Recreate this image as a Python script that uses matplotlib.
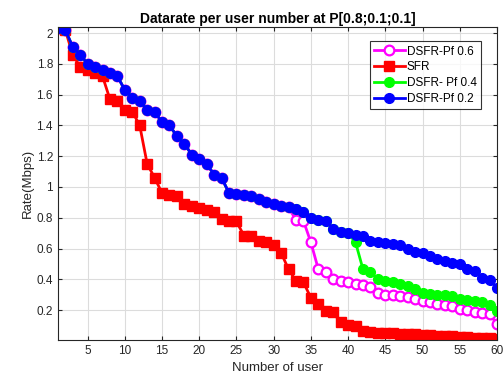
import matplotlib
matplotlib.use("Agg")
import matplotlib.pyplot as plt
import numpy as np

plt.rcParams['font.family'] = ['Liberation Sans', 'DejaVu Sans']

users = list(range(1, 61))

blue = [2.03, 2.02, 1.91, 1.86, 1.80, 1.78, 1.76, 1.74, 1.72, 1.63,
        1.58, 1.56, 1.50, 1.49, 1.42, 1.40, 1.33, 1.28, 1.21, 1.18,
        1.15, 1.08, 1.06, 0.96, 0.955, 0.945, 0.94, 0.92, 0.905, 0.89,
        0.877, 0.867, 0.856, 0.84, 0.80, 0.787, 0.78, 0.73, 0.71, 0.70,
        0.69, 0.68, 0.65, 0.64, 0.635, 0.63, 0.62, 0.595, 0.58, 0.57,
        0.55, 0.535, 0.52, 0.505, 0.50, 0.47, 0.455, 0.41, 0.395, 0.345]

magenta = blue[:32] + [0.785, 0.78, 0.64, 0.465, 0.45, 0.40, 0.39, 0.38,
                       0.37, 0.36, 0.35, 0.31, 0.30, 0.295, 0.29, 0.285,
                       0.27, 0.26, 0.25, 0.24, 0.232, 0.228, 0.21, 0.20,
                       0.19, 0.18, 0.175, 0.11]

green = blue[:40] + [0.64, 0.465, 0.45, 0.40, 0.39, 0.385, 0.37, 0.355,
                     0.34, 0.31, 0.303, 0.30, 0.295, 0.29, 0.275, 0.265,
                     0.26, 0.25, 0.235, 0.196]

red = [2.03, 2.02, 1.86, 1.78, 1.76, 1.74, 1.72, 1.57, 1.56, 1.50,
       1.49, 1.40, 1.15, 1.06, 0.96, 0.945, 0.94, 0.89, 0.875, 0.862,
       0.85, 0.837, 0.79, 0.78, 0.776, 0.684, 0.68, 0.647, 0.643, 0.626,
       0.572, 0.465, 0.39, 0.38, 0.28, 0.24, 0.196, 0.185, 0.12, 0.10,
       0.099, 0.066, 0.056, 0.052, 0.050, 0.048, 0.046, 0.044, 0.042, 0.040,
       0.037, 0.034, 0.032, 0.030, 0.028, 0.025, 0.022, 0.020, 0.017, 0.010]

labels = ['DSFR-Pf 0.6', 'SFR', 'DSFR- Pf 0.4', 'DSFR-Pf 0.2']
yticks = [0.2, 0.4, 0.6, 0.8, 1, 1.2, 1.4, 1.6, 1.8, 2]
ytick_labels = ['0.2', '0.4', '0.6', '0.8', '1', '1.2', '1.4', '1.6', '1.8', '2']
xticks = list(range(5, 61, 5))

fig = plt.figure(figsize=(5.03, 3.79), dpi=100)
ax = fig.add_axes([0.115, 0.103, 0.873, 0.826])

ax.plot(users, magenta, '-o', color='#FF00FF', lw=2, ms=7, mfc='white',
        mec='#FF00FF', mew=1.6, label=labels[0])
ax.plot(users, red, '-s', color='#FF0000', lw=2, ms=6.5, label=labels[1])
ax.plot(users, green, '-o', color='#00FF00', lw=2, ms=7, label=labels[2])
ax.plot(users, blue, '-o', color='#0000FF', lw=2, ms=7, label=labels[3])

ax.set_xlim(1, 60)
ax.set_ylim(min(red) - 0.004, max(blue) + 0.01)
ax.set_xticks(xticks)
ax.set_yticks(yticks)
ax.set_yticklabels(ytick_labels)
ax.grid(True, color='#dcdcdc', lw=0.8)
ax.set_axisbelow(True)
ax.tick_params(direction='in', length=3, labelsize=8.5, colors='#262626',
               top=True, right=True)
for s in ax.spines.values():
    s.set_color('#262626')
    s.set_linewidth(0.8)

ax.set_title('Datarate per user number at P[0.8;0.1;0.1]', fontsize=10,
             fontweight='bold', pad=3)
ax.set_xlabel('Number of user', fontsize=9.5, color='#262626')
ax.set_ylabel('Rate(Mbps)', fontsize=9.5, color='#262626', labelpad=2)

leg = ax.legend(loc='upper right', bbox_to_anchor=(0.972, 0.965), fontsize=8.5,
                frameon=True, fancybox=False, edgecolor='black',
                handlelength=2.6, borderpad=0.35, labelspacing=0.32,
                handletextpad=0.2, borderaxespad=0.3)
leg.get_frame().set_linewidth(0.8)

fig.savefig('out.png', dpi=100)
